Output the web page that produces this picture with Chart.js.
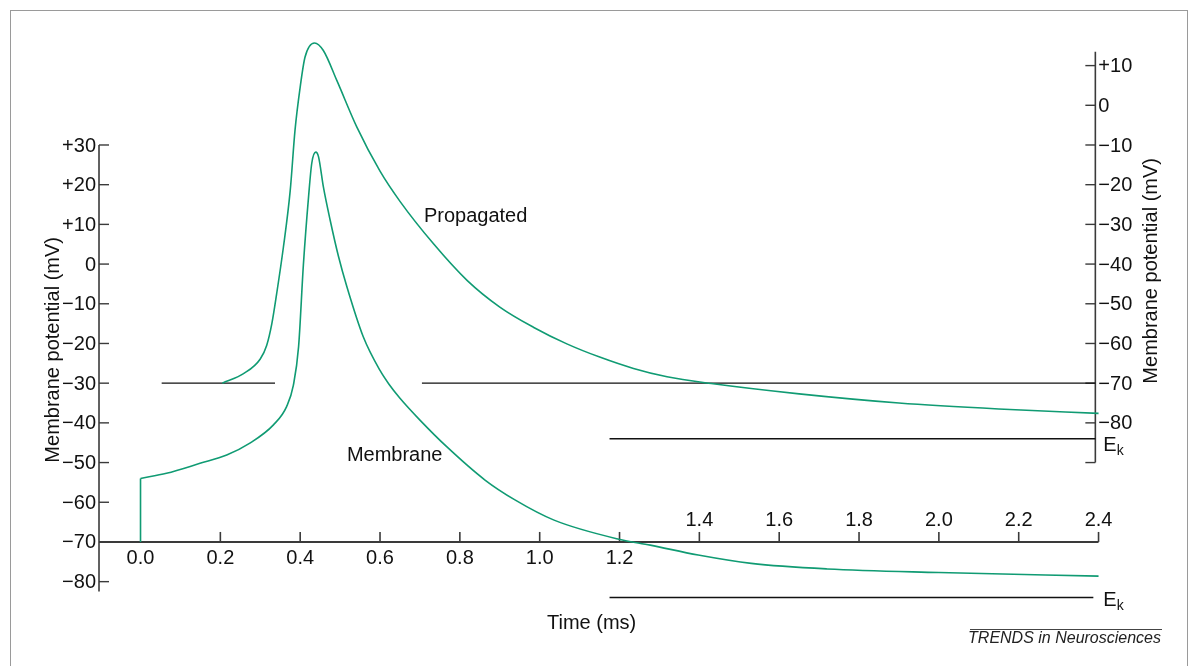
<!DOCTYPE html>
<html>
<head>
<meta charset="utf-8">
<script src="https://cdn.jsdelivr.net/npm/chart.js@4.4.0/dist/chart.umd.min.js"></script>
<style>
  html, body { margin: 0; padding: 0; background: #fff; }
  #wrap { width: 1192px; height: 666px; }
</style>
</head>
<body>
<div id="wrap"><canvas id="chart" width="1192" height="666"></canvas></div>
<script>
// membrane action potential, left axis (mV)
const membraneTime = [0.0, 0.065, 0.149, 0.216, 0.274, 0.333, 0.366, 0.383, 0.396, 0.408, 0.421, 0.429, 0.439, 0.446, 0.458, 0.475, 0.496, 0.517, 0.558, 0.600, 0.622, 0.650, 0.700, 0.767, 0.863, 0.938, 1.036, 1.198, 1.277, 1.397, 1.53, 1.72, 2.0, 2.4];
const membraneMv   = [-54, -52.7, -50.2, -48.1, -45.1, -40.5, -35.9, -30.5, -20.8, -0.2, 17, 25.4, 28.2, 27, 19.5, 11.1, 1.9, -5.7, -18.3, -26.8, -30.2, -33.8, -39.3, -46.0, -54.4, -59.4, -64.5, -69.3, -70.8, -73.3, -75.4, -76.8, -77.7, -78.6];
// stimulus step at t = 0
const stepTime = [0.0, 0.0];
const stepMv   = [-70, -54];

// propagated action potential, right axis (mV)
const propTime = [0.205, 0.258, 0.3, 0.316, 0.329, 0.341, 0.358, 0.375, 0.387, 0.4, 0.412, 0.436, 0.458, 0.492, 0.542, 0.6, 0.65, 0.734, 0.818, 0.901, 0.984, 1.068, 1.152, 1.235, 1.319, 1.43, 1.65, 1.9, 2.15, 2.4];
const propMv   = [-70, -67.6, -63.9, -60.5, -55, -47.5, -35.7, -21.5, -6.3, 4.6, 12.1, 15.7, 13.8, 6.2, -5.5, -16.6, -24.2, -34.9, -44.1, -50.9, -55.9, -60.1, -63.5, -66.3, -68.4, -70.1, -72.7, -75.0, -76.5, -77.6];

// reference lines
const restMv = -70;               // resting level of propagated trace (right axis)
const restStart = [0.053, 0.705];
const restEnd   = [0.337, 2.392];
const ekMv = -84;                 // potassium equilibrium potential
const ekStart = 1.175;
const ekEndRight = 2.392;
const ekEndLeft  = 2.387;

// tick labels
const leftTicks  = [30, 20, 10, 0, -10, -20, -30, -40, -50, -60, -70, -80];
const rightTicks = [10, 0, -10, -20, -30, -40, -50, -60, -70, -80];
const timeTicksBelow = [0.0, 0.2, 0.4, 0.6, 0.8, 1.0, 1.2];
const timeTicksAbove = [1.4, 1.6, 1.8, 2.0, 2.2, 2.4];

const GREEN = '#109b73';
const AXIS = '#3a3a3a';
const FONT = '"Liberation Sans", Arial, Helvetica, sans-serif';

function pts(xs, ys) {
    return xs.map((t, i) => ({ x: t, y: ys[i] }));
}

function mvLabel(v) {
    if (v > 0) return '+' + v;
    if (v < 0) return '\u2212' + Math.abs(v);
    return '0';
}

function seg(ctx, x1, y1, x2, y2, w) {
    ctx.lineWidth = w;
    ctx.beginPath();
    ctx.moveTo(x1, y1);
    ctx.lineTo(x2, y2);
    ctx.stroke();
}

// axes, ticks and text drawn on the chart's own scales
const axesPlugin = {
    id: 'axesPlugin',
    beforeDatasetsDraw(chart) {
        const { ctx, scales } = chart;
        const x = scales.x, y = scales.y, yR = scales.yR;
        ctx.save();
        ctx.strokeStyle = AXIS;

        // left axis
        const lx = x.getPixelForValue(-0.104);
        seg(ctx, lx, y.getPixelForValue(30), lx, y.getPixelForValue(-82.5), 1.6);
        leftTicks.forEach(v => {
            const py = y.getPixelForValue(v);
            seg(ctx, lx, py, lx + 10, py, 1.4);
        });

        // time axis at -70 mV
        const ay = y.getPixelForValue(-70);
        seg(ctx, lx, ay, x.getPixelForValue(2.4), ay, 2);
        timeTicksBelow.concat(timeTicksAbove).forEach(t => {
            if (t === 0) return;
            const px = x.getPixelForValue(t);
            seg(ctx, px, ay, px, ay - 10, 1.6);
        });

        // right axis
        const rx = x.getPixelForValue(2.392);
        seg(ctx, rx, yR.getPixelForValue(13.5), rx, yR.getPixelForValue(-90), 1.6);
        rightTicks.concat([-90]).forEach(v => {
            const py = yR.getPixelForValue(v);
            seg(ctx, rx - 10, py, rx, py, 1.4);
        });
        ctx.restore();
    },
    afterDraw(chart) {
        const { ctx, scales } = chart;
        const x = scales.x, y = scales.y, yR = scales.yR;
        ctx.save();
        ctx.fillStyle = '#111';
        ctx.font = '20px ' + FONT;

        const lx = x.getPixelForValue(-0.104);
        const rx = x.getPixelForValue(2.392);
        const ay = y.getPixelForValue(-70);

        // left tick labels
        ctx.textAlign = 'right';
        ctx.textBaseline = 'middle';
        leftTicks.forEach(v => ctx.fillText(mvLabel(v), lx - 3, y.getPixelForValue(v) + 1));

        // right tick labels
        ctx.textAlign = 'left';
        rightTicks.forEach(v => ctx.fillText(mvLabel(v), rx + 3, yR.getPixelForValue(v) + 1));

        // time labels
        ctx.textAlign = 'center';
        ctx.textBaseline = 'alphabetic';
        timeTicksBelow.forEach(t => ctx.fillText(t.toFixed(1), x.getPixelForValue(t), ay + 22));
        timeTicksAbove.forEach(t => ctx.fillText(t.toFixed(1), x.getPixelForValue(t), ay - 16));

        // axis titles
        ctx.fillText('Time (ms)', x.getPixelForValue(1.13), y.getPixelForValue(-90.2) + 7);
        ctx.save();
        ctx.translate(lx - 40, y.getPixelForValue(-21.6));
        ctx.rotate(-Math.PI / 2);
        ctx.fillText('Membrane potential (mV)', 0, 0);
        ctx.restore();
        ctx.save();
        ctx.translate(rx + 62, yR.getPixelForValue(-41.7));
        ctx.rotate(-Math.PI / 2);
        ctx.fillText('Membrane potential (mV)', 0, 0);
        ctx.restore();

        // trace labels
        ctx.textAlign = 'left';
        ctx.textBaseline = 'middle';
        ctx.fillText('Propagated', x.getPixelForValue(0.71), yR.getPixelForValue(-28.1));
        ctx.fillText('Membrane', x.getPixelForValue(0.517), y.getPixelForValue(-48.3));

        // E_k labels
        const ekLabel = (px, base) => {
            ctx.textBaseline = 'alphabetic';
            ctx.font = '20px ' + FONT;
            ctx.fillText('E', px, base);
            const w = ctx.measureText('E').width;
            ctx.font = '14px ' + FONT;
            ctx.fillText('k', px + w, base + 4);
        };
        ekLabel(rx + 8, yR.getPixelForValue(ekMv) + 12.5);
        ekLabel(rx + 8, y.getPixelForValue(ekMv) + 8.5);

        // source credit
        ctx.font = 'italic 16px ' + FONT;
        ctx.textAlign = 'right';
        ctx.fillStyle = '#222';
        ctx.fillText('TRENDS in Neurosciences', 1161, 643);
        ctx.strokeStyle = '#444';
        seg(ctx, 970, 629.5, 1162, 629.5, 1);

        // frame
        ctx.strokeStyle = '#9a9a9a';
        ctx.lineWidth = 1;
        ctx.strokeRect(10.5, 10.5, 1177, 700);
        ctx.restore();
    }
};

const lineStyle = (color, width, axis) => ({
    borderColor: color,
    borderWidth: width,
    yAxisID: axis,
    pointRadius: 0,
    fill: false,
    tension: 0
});

const datasets = [
    Object.assign({ data: pts(propTime, propMv), cubicInterpolationMode: 'monotone' }, lineStyle(GREEN, 1.6, 'yR')),
    Object.assign({ data: pts(membraneTime, membraneMv), cubicInterpolationMode: 'monotone' }, lineStyle(GREEN, 1.6, 'y')),
    Object.assign({ data: pts(stepTime, stepMv) }, lineStyle(GREEN, 1.6, 'y')),
    Object.assign({ data: pts([ekStart, ekEndRight], [ekMv, ekMv]) }, lineStyle('#111', 1.4, 'yR')),
    Object.assign({ data: pts([ekStart, ekEndLeft], [ekMv, ekMv]) }, lineStyle('#111', 1.4, 'y'))
];
restStart.forEach((s, i) => {
    datasets.push(Object.assign({ data: pts([s, restEnd[i]], [restMv, restMv]) }, lineStyle('#111', 1.4, 'yR')));
});

new Chart(document.getElementById('chart'), {
    type: 'line',
    data: { datasets: datasets },
    options: {
        responsive: false,
        animation: false,
        devicePixelRatio: 1,
        layout: { padding: { left: 100.6, right: 73.5, top: 25.9, bottom: 64.5 } },
        plugins: { legend: { display: false }, tooltip: { enabled: false } },
        scales: {
            x: { type: 'linear', min: -0.1, max: 2.45, display: false },
            y: { type: 'linear', min: -85, max: 60, display: false },
            yR: { type: 'linear', min: -125, max: 20, display: false }
        }
    },
    plugins: [axesPlugin]
});
</script>
</body>
</html>
